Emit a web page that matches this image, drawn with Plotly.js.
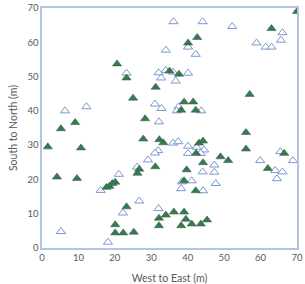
<!DOCTYPE html>
<html>
<head>
<meta charset="utf-8">
<script src="https://cdn.plot.ly/plotly-3.0.1.min.js"></script>
<style>
  html, body { margin: 0; padding: 0; background: #fff; }
  #plot { width: 305px; height: 284px; }
</style>
</head>
<body>
<div id="plot"></div>
<script>
// Tree positions in the plot, metres from the south-west corner
const filledX = [70, 63, 42.6, 40.1, 20.6, 35, 37.6, 23.2, 31.2, 57, 25, 39, 41.5, 38.2, 42.2,
  28.3, 9.1, 5.2, 56, 1.6, 10.7, 27.8, 32.2, 33.3, 43.1, 44.2, 56, 66.5, 42.3, 49, 51.1,
  44.2, 31.1, 26.7, 26.2, 62, 39.7, 4.1, 9.6, 20.1, 19.3, 18.5, 17.7, 39, 42.2, 23.2,
  32.1, 34, 36.2, 39, 39.5, 32.1, 38.2, 41.1, 43.6, 45.3, 20.1, 20.1, 22.3, 25.2];
const filledY = [69, 64, 61.4, 59.8, 53.7, 51.6, 50.7, 49.6, 46.9, 44.8, 43.7, 42.6, 42.6, 40.2, 40.2,
  37.7, 36.6, 34.8, 33.7, 29.5, 29.2, 31.8, 31.6, 30.7, 30.6, 31.2, 28.9, 27.6, 27.6, 26.6, 25.5,
  24.9, 23.7, 23, 21.8, 23.2, 22.8, 20.7, 20.3, 19.2, 18.8, 18, 17.7, 19.6, 16.7, 12,
  8.7, 9.6, 10.5, 10.5, 8.4, 6.5, 6.5, 7, 7, 8.2, 6.8, 4.4, 4.4, 4.6];

const openX = [36.1, 44.1, 52.2, 66, 65.6, 58.9, 61.4, 63, 40.1, 34, 42.2, 23.2, 32, 34, 36,
  40.1, 32.7, 36.7, 31, 32.8, 37.5, 37, 43.7, 6.3, 12.2, 32.1, 36, 37.4, 40.1, 40.1,
  42.5, 44.5, 43.6, 31.9, 31, 29.1, 26.1, 47.3, 44.1, 47.3, 47.7, 38.4, 41.1, 38.2, 44.2,
  65.4, 68.9, 59.9, 64, 66, 64.5, 21.1, 16.1, 26.7, 22.2, 32, 5.2, 18.1];
const openY = [66, 66, 64.6, 62.8, 60.6, 59.8, 58.6, 58.6, 58.6, 57.7, 56.5, 51, 51.1, 51.8, 51.3,
  51, 49.6, 48.7, 42, 40.7, 41.2, 40, 40, 40, 41.2, 36.8, 30.6, 31, 29.7, 27.6,
  29.4, 28.6, 27.6, 28.4, 27.7, 25.7, 23.6, 24.2, 22.2, 22.1, 18.8, 19.3, 19.6, 17.3, 16.7,
  28.1, 25.5, 25.5, 22.6, 22.2, 20.2, 21.5, 16.8, 13.7, 10.2, 11.5, 4.8, 1.7];

const tickVals = [0, 10, 20, 30, 40, 50, 60, 70];

const frameColor = '#b2c4e2';
const textColor = '#595959';
const tickFont = { family: 'Lato, "Open Sans", sans-serif', size: 9.5, color: textColor };
const titleFont = { family: 'Lato, "Open Sans", sans-serif', size: 10.5, color: textColor };

const traces = [
  {
    x: openX, y: openY, type: 'scatter', mode: 'markers',
    marker: { symbol: 'triangle-up', size: 8, color: '#ffffff',
              line: { color: '#7a98cf', width: 1 } },
    hoverinfo: 'x+y'
  },
  {
    x: filledX, y: filledY, type: 'scatter', mode: 'markers',
    marker: { symbol: 'triangle-up', size: 8, color: '#2e7d4c',
              line: { color: '#4d5a52', width: 0.6 } },
    hoverinfo: 'x+y'
  }
];

const axisBase = {
  range: [0, 70], tickvals: tickVals, ticktext: tickVals.map(String),
  showgrid: false, zeroline: false, showline: true, mirror: true,
  linecolor: frameColor, linewidth: 1.6, ticks: '', tickfont: tickFont, ticklen: 0
};

const layout = {
  width: 305, height: 284,
  margin: { l: 42, r: 8, t: 8, b: 36 },
  paper_bgcolor: '#ffffff', plot_bgcolor: '#ffffff',
  showlegend: false,
  font: tickFont,
  xaxis: Object.assign({}, axisBase, {
    title: { text: 'West to East (m)', font: titleFont, standoff: 12 }
  }),
  yaxis: Object.assign({}, axisBase, {
    title: { text: 'South to North (m)', font: titleFont, standoff: 8 }
  })
};

Plotly.newPlot('plot', traces, layout, { displayModeBar: false, staticPlot: true });
</script>
</body>
</html>
